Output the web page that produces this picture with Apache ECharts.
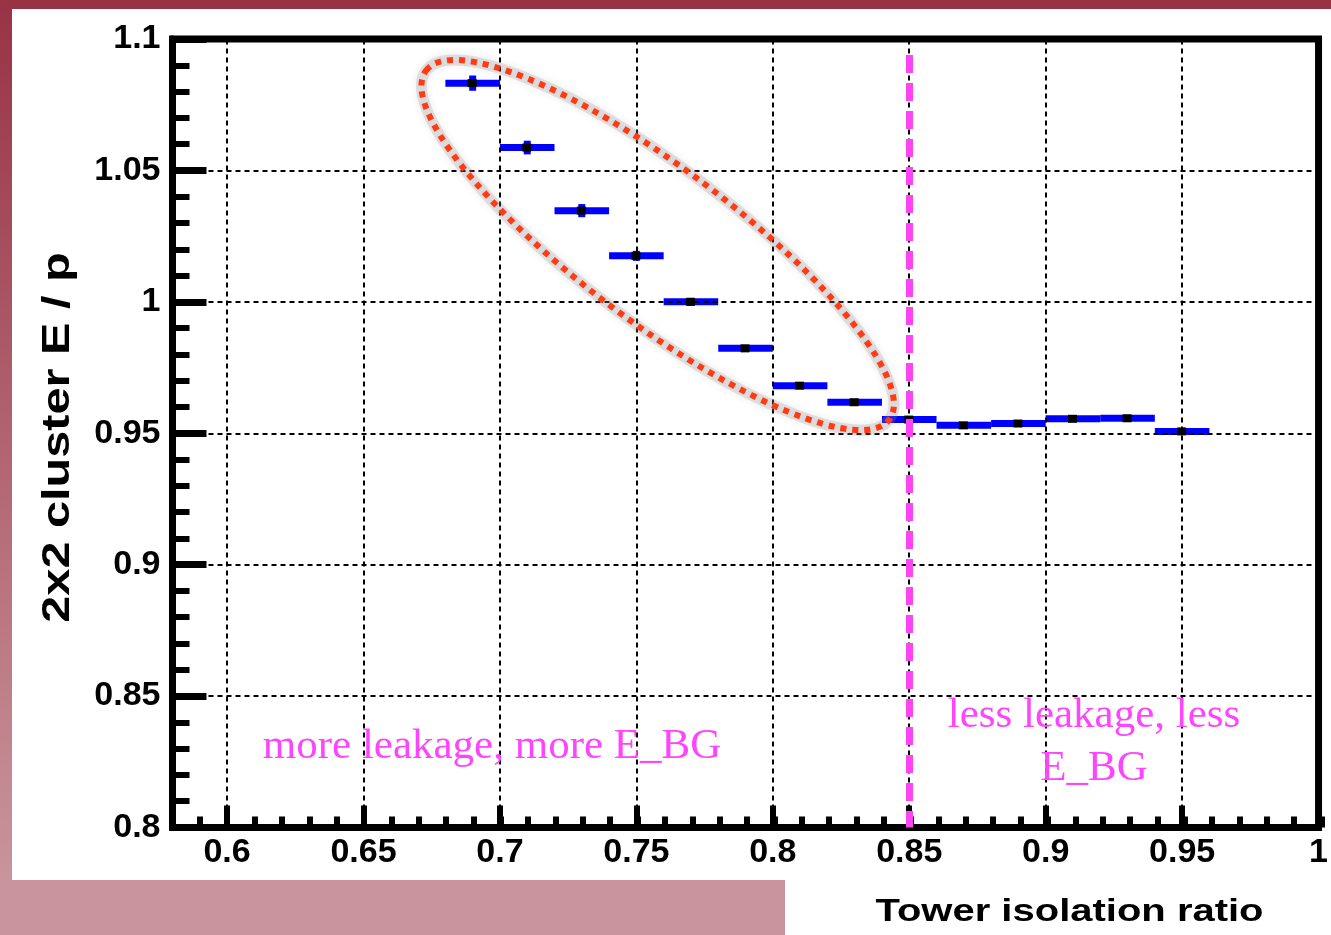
<!DOCTYPE html>
<html>
<head>
<meta charset="utf-8">
<script src="https://cdn.jsdelivr.net/npm/echarts@6/dist/echarts.min.js"></script>
<style>
html,body{margin:0;padding:0;background:#ffffff;}
#chart{width:1331px;height:935px;}
</style>
</head>
<body>
<div id="chart"></div>
<script>
// ---- data ----
const xCenters = [0.69, 0.71, 0.73, 0.75, 0.77, 0.79, 0.81, 0.83, 0.85, 0.87, 0.89, 0.91, 0.93, 0.95];
const xErrors  = [0.01, 0.01, 0.01, 0.01, 0.01, 0.01, 0.01, 0.01, 0.01, 0.01, 0.01, 0.01, 0.01, 0.01];
const yValues  = [1.0832, 1.0587, 1.0347, 1.0175, 1.0000, 0.9823, 0.9681, 0.9618, 0.9552, 0.9530, 0.9537, 0.9555, 0.9557, 0.9507];
const yErrors  = [0.0029, 0.0026, 0.0025, 0.0019, 0.0015, 0.0012, 0.0010, 0.0010, 0.0009, 0.0008, 0.0008, 0.0008, 0.0008, 0.0008];
const xTickValues = [0.6, 0.65, 0.7, 0.75, 0.8, 0.85, 0.9, 0.95, 1.0];
const yTickValues = [0.8, 0.85, 0.9, 0.95, 1.0, 1.05, 1.1];
const xGridValues = [0.6, 0.65, 0.7, 0.75, 0.8, 0.85, 0.9, 0.95];
const yGridValues = [0.85, 0.9, 0.95, 1.0, 1.05];
const xRange = [0.58, 1.0];
const yRange = [0.8, 1.1];
const cutValue = 0.85;
const xTitle = 'Tower isolation ratio';
const yTitle = '2x2 cluster E / p';
const noteLeft = 'more leakage, more E_BG';
const noteRight = 'less leakage, less\nE_BG';
// annotation anchors in data coordinates
const noteLeftAt = [0.6131, 0.8306];
const noteRightAt = [0.9177, 0.8325];
const ellipseCenter = [0.7578, 1.0216];
const cutLineSpan = [1.0939, 0.8];

const SANS = 'Liberation Sans, Arial, Helvetica, sans-serif';
const SERIF = 'Liberation Serif, Times New Roman, serif';
const fmt = v => String(Math.round(v * 100) / 100);

const chart = echarts.init(document.getElementById('chart'), null, {renderer: 'canvas'});
const gridRect = {left: 172.5, right: 9.5, top: 39, bottom: 107.5};

const points = xCenters.map((x, i) => [x, yValues[i], xErrors[i], yErrors[i]]);

const gridLineData = [];
xGridValues.forEach(v => gridLineData.push({xAxis: v}));
yGridValues.forEach(v => gridLineData.push({yAxis: v}));

const labelStyle = {color: '#000', fontFamily: SANS, fontWeight: 'bold', fontSize: 34};

const option = {
  animation: false,
  backgroundColor: '#ffffff',
  grid: [
    Object.assign({show: true, borderColor: '#000', borderWidth: 7, backgroundColor: 'transparent'}, gridRect),
    Object.assign({show: false}, gridRect)
  ],
  xAxis: [
    {
      type: 'value', gridIndex: 0, min: xRange[0], max: xRange[1], position: 'bottom',
      axisLine: {show: true, onZero: false, lineStyle: {color: '#000', width: 7}},
      axisTick: {show: true, inside: true, length: 22, customValues: xTickValues, lineStyle: {color: '#000', width: 6}},
      axisLabel: Object.assign({show: true, customValues: xTickValues, margin: 8, formatter: fmt}, labelStyle),
      splitLine: {show: false}
    },
    {
      type: 'value', gridIndex: 1, min: xRange[0], max: xRange[1], interval: 0.01, position: 'bottom',
      axisLine: {show: false},
      axisTick: {show: true, inside: true, length: 11, lineStyle: {color: '#000', width: 6}},
      axisLabel: {show: false},
      splitLine: {show: false}
    }
  ],
  yAxis: [
    {
      type: 'value', gridIndex: 0, min: yRange[0], max: yRange[1], interval: 0.05,
      axisLine: {show: true, onZero: false, lineStyle: {color: '#000', width: 7}},
      axisTick: {show: true, inside: true, length: 34, lineStyle: {color: '#000', width: 7}},
      minorTick: {show: true, splitNumber: 5, length: 17, lineStyle: {color: '#000', width: 6}},
      axisLabel: Object.assign({show: true, margin: 12, showMinLabel: true, showMaxLabel: true, formatter: fmt}, labelStyle),
      splitLine: {show: false}
    },
    {
      type: 'value', gridIndex: 1, min: yRange[0], max: yRange[1], show: false
    }
  ],
  series: [
    {
      name: 'E/p', type: 'custom', xAxisIndex: 0, yAxisIndex: 0, z: 2,
      data: points,
      renderItem: function (params, api) {
        const x = api.value(0), y = api.value(1), xe = api.value(2), ye = api.value(3);
        const c = api.coord([x, y]);
        const l = api.coord([x - xe, y]);
        const r = api.coord([x + xe, y]);
        const t = api.coord([x, y + ye]);
        const b = api.coord([x, y - ye]);
        return {
          type: 'group',
          children: [
            {type: 'rect', shape: {x: l[0], y: c[1] - 3.5, width: r[0] - l[0], height: 7}, style: {fill: '#0000ff'}},
            {type: 'rect', shape: {x: c[0] - 3.5, y: t[1], width: 7, height: b[1] - t[1]}, style: {fill: '#0000ff'}},
            {type: 'rect', shape: {x: c[0] - 5, y: c[1] - 4, width: 9, height: 8}, style: {fill: '#000000'}}
          ]
        };
      }
    },
    {
      name: 'grid', type: 'line', xAxisIndex: 0, yAxisIndex: 0, data: [], z: 3, silent: true,
      markLine: {
        silent: true, symbol: ['none', 'none'], label: {show: false},
        lineStyle: {color: '#000', width: 2, type: [5, 4]},
        emphasis: {disabled: true},
        data: gridLineData
      }
    },
    {
      name: 'cut', type: 'line', xAxisIndex: 0, yAxisIndex: 0, data: [], z: 4, silent: true,
      markLine: {
        silent: true, symbol: ['none', 'none'], label: {show: false},
        lineStyle: {color: '#ff44f4', width: 7, type: [18, 10]},
        emphasis: {disabled: true},
        data: [[{coord: [cutValue, cutLineSpan[0]]}, {coord: [cutValue, cutLineSpan[1]]}]]
      }
    }
  ]
};
chart.setOption(option);

const toPx = p => chart.convertToPixel({gridIndex: 0}, p);
const ec = toPx(ellipseCenter);
const nl = toPx(noteLeftAt);
const nr = toPx(noteRightAt);
const ellRot = -37 * Math.PI / 180;

chart.setOption({
  graphic: [
    {type: 'rect', z: -10, shape: {x: 0, y: 0, width: 1331, height: 9}, style: {fill: '#983344'}},
    {type: 'rect', z: -10, shape: {x: 0, y: 0, width: 12, height: 880},
      style: {fill: new echarts.graphic.LinearGradient(0, 0, 0, 1, [{offset: 0, color: '#983344'}, {offset: 1, color: '#c9949c'}])}},
    {type: 'rect', z: -10, shape: {x: 0, y: 880, width: 785, height: 55}, style: {fill: '#c9949c'}},
    {type: 'text', z: 10, x: 58.5, y: 437.5, rotation: Math.PI / 2, scaleX: 1.28,
      style: {text: yTitle, fill: '#000', font: 'bold 38px ' + SANS, align: 'center', verticalAlign: 'middle', textAlign: 'center', textVerticalAlign: 'middle'}},
    {type: 'text', z: 10, x: 1069.5, y: 912, scaleX: 1.29,
      style: {text: xTitle, fill: '#000', font: 'bold 31px ' + SANS, align: 'center', verticalAlign: 'middle', textAlign: 'center', textVerticalAlign: 'middle'}},
    {type: 'ellipse', z: 9, x: ec[0], y: ec[1], rotation: ellRot,
      shape: {cx: 0, cy: 0, rx: 290, ry: 77},
      style: {fill: null, stroke: 'rgba(150,150,150,0.25)', lineWidth: 11, shadowBlur: 9, shadowColor: 'rgba(0,0,0,0.28)'}},
    {type: 'ellipse', z: 10, x: ec[0], y: ec[1], rotation: ellRot,
      shape: {cx: 0, cy: 0, rx: 290, ry: 77},
      style: {fill: null, stroke: '#ff3a14', lineWidth: 6, lineDash: [6, 6]}},
    {type: 'text', z: 10, x: nl[0], y: nl[1],
      style: {text: noteLeft, fill: '#ff44ff', font: '43px ' + SERIF, align: 'left', verticalAlign: 'middle', textAlign: 'left', textVerticalAlign: 'middle'}},
    {type: 'text', z: 10, x: nr[0], y: nr[1],
      style: {text: noteRight, fill: '#ff44ff', font: '43px ' + SERIF, lineHeight: 53, align: 'center', verticalAlign: 'middle', textAlign: 'center', textVerticalAlign: 'middle'}}
  ]
});
</script>
</body>
</html>
